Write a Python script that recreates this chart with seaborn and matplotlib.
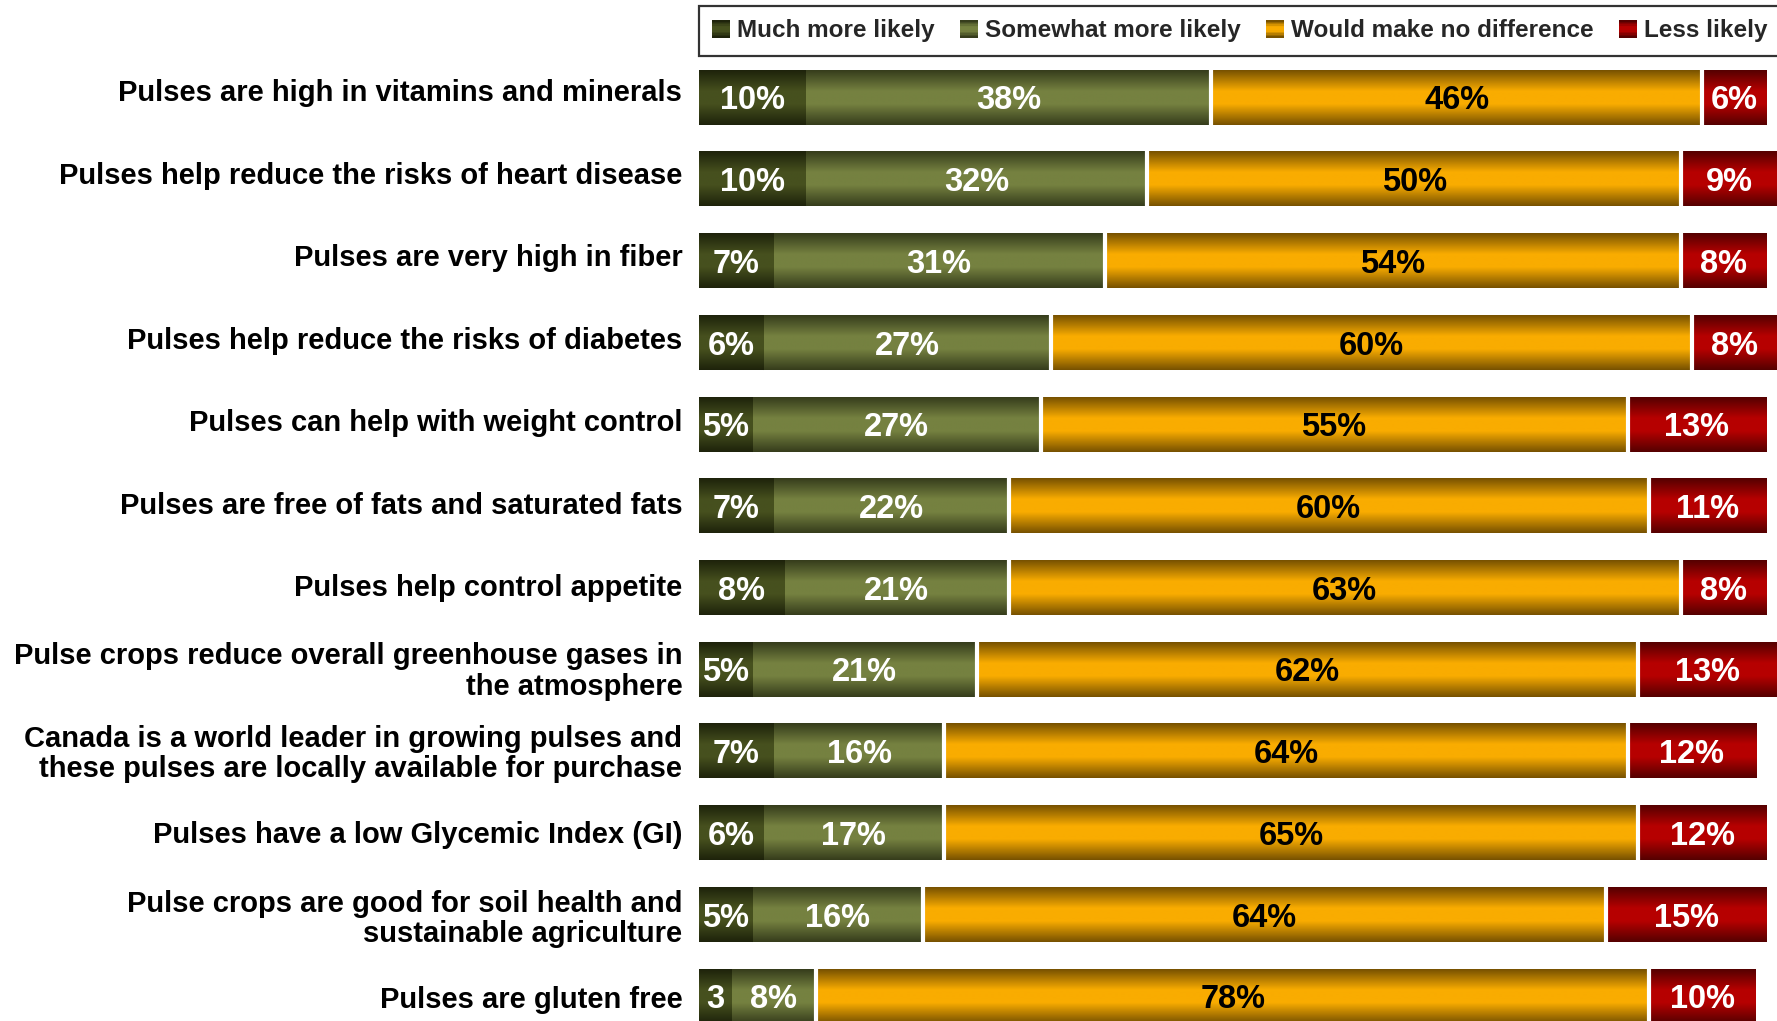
import numpy as np
import pandas as pd
import matplotlib
matplotlib.use("Agg")
import matplotlib.pyplot as plt
import seaborn as sns
from matplotlib.colors import to_rgb
from matplotlib.patches import Rectangle
from matplotlib.legend_handler import HandlerBase
from matplotlib.transforms import ScaledTranslation

# ---- data -------------------------------------------------------------
statements = [
    "Pulses are high in vitamins and minerals",
    "Pulses help reduce the risks of heart disease",
    "Pulses are very high in fiber",
    "Pulses help reduce the risks of diabetes",
    "Pulses can help with weight control",
    "Pulses are free of fats and saturated fats",
    "Pulses help control appetite",
    "Pulse crops reduce overall greenhouse gases in\nthe atmosphere",
    "Canada is a world leader in growing pulses and\nthese pulses are locally available for purchase",
    "Pulses have a low Glycemic Index (GI)",
    "Pulse crops are good for soil health and\nsustainable agriculture",
    "Pulses are gluten free",
]
much_more_likely = [10, 10, 7, 6, 5, 7, 8, 5, 7, 6, 5, 3]
somewhat_more_likely = [38, 32, 31, 27, 27, 22, 21, 21, 16, 17, 16, 8]
no_difference = [46, 50, 54, 60, 55, 60, 63, 62, 64, 65, 64, 78]
less_likely = [6, 9, 8, 8, 13, 11, 8, 13, 12, 12, 15, 10]
series_names = ["Much more likely", "Somewhat more likely",
                "Would make no difference", "Less likely"]

# ---- styling ------------------------------------------------------------
# (edge shade, centre shade) for each response's vertical gradient
shades = [("#1e230b", "#46501e"),
          ("#363d1c", "#758140"),
          ("#785200", "#f9ac00"),
          ("#560000", "#b60000")]
label_colors = ["white", "white", "black", "white"]
bar_height = 0.666
value_size = 23.5
row_px = 81.7  # pixel pitch between rows

sns.set_theme(style="white")
plt.rcParams["font.family"] = ["Liberation Sans", "DejaVu Sans"]

W, H = 1777, 1021
fig = plt.figure(figsize=(W / 100, H / 100), dpi=100)
fig.patch.set_facecolor("white")
ax = fig.add_axes([699 / W, 0, (W - 699) / W, 1])

series = [much_more_likely, somewhat_more_likely, no_difference, less_likely]
values = np.array(series, dtype=float)
cum = np.cumsum(values, axis=0)

df = pd.DataFrame({"statement": statements})
for k, name in enumerate(series_names):
    df[name] = cum[k]

# stacked bars: draw running totals from the longest to the shortest
for k in reversed(range(len(series_names))):
    sns.barplot(data=df, x=series_names[k], y="statement", orient="h",
                color=shades[k][1], saturation=1, width=bar_height,
                ax=ax, zorder=1)


def gradient_rows(edge, centre, n=64):
    e, c = np.array(to_rgb(edge)), np.array(to_rgb(centre))
    t = np.linspace(0, 1, n)
    w = np.interp(t, [0.0, 0.38, 0.62, 1.0], [0.0, 1.0, 1.0, 0.0])
    return e[None, :] * (1 - w[:, None]) + c[None, :] * w[:, None]


# shade every visible segment with a top/bottom darkening gradient
for j, cont in enumerate(ax.containers):
    k = len(series_names) - 1 - j
    img = gradient_rows(*shades[k])[:, None, :]
    for i, bar in enumerate(cont):
        left = cum[k - 1][i] if k > 0 else 0.0
        right = bar.get_width()
        y0, h = bar.get_y(), bar.get_height()
        ax.imshow(img, extent=[left, right, y0 + h, y0], aspect="auto",
                  interpolation="bilinear", zorder=2)

# white separators before and after the "no difference" block
pos = np.arange(len(statements))
for k in (1, 2):
    ax.vlines(cum[k], pos - bar_height / 2 - 0.01, pos + bar_height / 2 + 0.01,
              colors="white", linewidth=3.0, zorder=3)

# value labels, digits centred vertically on the bar
digit_drop = ScaledTranslation(0, -3.5 / 100, fig.dpi_scale_trans)
for k in range(len(series_names)):
    for i in range(len(statements)):
        v = values[k][i]
        left = cum[k - 1][i] if k > 0 else 0.0
        txt = f"{int(v)}%" if v >= 4 else f"{int(v)}"
        ax.text((left + cum[k][i]) / 2, i, txt, ha="center", va="center",
                color=label_colors[k], fontsize=value_size, fontweight="bold",
                zorder=4, transform=ax.transData + digit_drop)

ax.set_xlim(0, 101)
ax.set_ylim(11.303, -1.193)
# category labels sit on a slightly wider pitch than the bars
n = len(statements)
tick_pos = pos - (6.5 - 7.5 * pos / (n - 1)) * 1.133 / row_px
ax.set_yticks(tick_pos)
ax.set_yticklabels(statements, fontsize=21, fontweight="bold", color="black")
for t in ax.get_yticklabels():
    t.set_linespacing(1.1)
ax.tick_params(axis="y", length=0, pad=12)
ax.set_xticks([])
ax.set_xlabel("")
ax.set_ylabel("")
for s in ax.spines.values():
    s.set_visible(False)


class GradientSquare(HandlerBase):
    """Legend key drawn as a small square with the same vertical shading."""

    def __init__(self, edge, centre, strips=12):
        super().__init__()
        self.rows = gradient_rows(edge, centre, strips)

    def create_artists(self, legend, orig_handle, xdescent, ydescent,
                       width, height, fontsize, trans):
        side = min(width, height)
        x0 = -xdescent + (width - side) / 2
        y0 = -ydescent + (height - side) / 2
        m = len(self.rows)
        arts = []
        for r, col in enumerate(self.rows):
            arts.append(Rectangle((x0, y0 + side * (m - 1 - r) / m), side,
                                  side / m * 1.05, facecolor=col,
                                  edgecolor="none", transform=trans))
        return arts


keys = [Rectangle((0, 0), 1, 1) for _ in series_names]
handler_map = {keys[k]: GradientSquare(*shades[k]) for k in range(len(keys))}
leg = fig.legend(keys, series_names, handler_map=handler_map, ncol=4,
                 loc="upper left", bbox_to_anchor=(699 / W, 1 - 6 / H),
                 frameon=True, fancybox=False, edgecolor="black",
                 prop=dict(weight="bold", size=17.5),
                 handlelength=0.72, handleheight=0.72, handletextpad=0.3,
                 columnspacing=1.05, borderpad=0.55, borderaxespad=0)
leg.get_frame().set_linewidth(1.6)

fig.savefig("out.png", dpi=100, facecolor="white")
